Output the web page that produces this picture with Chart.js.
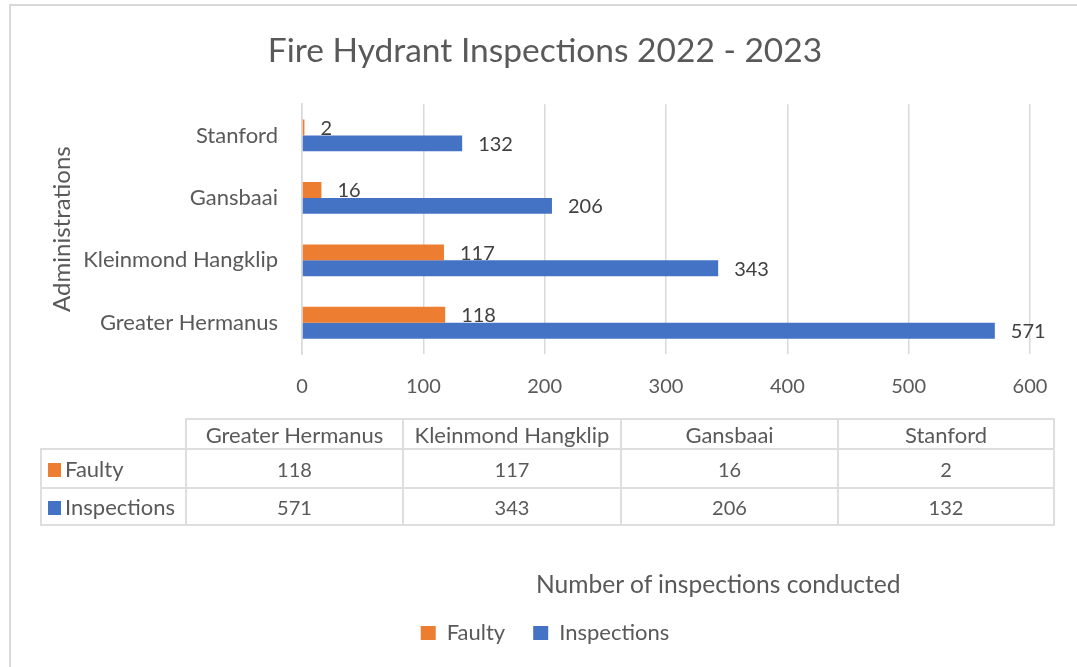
<!DOCTYPE html>
<html>
<head>
<meta charset="utf-8">
<script src="https://cdn.jsdelivr.net/npm/chart.js@4.4.1/dist/chart.umd.min.js"></script>
<style>
  html, body { margin: 0; padding: 0; background: #fff; overflow: hidden; }
  body { width: 1077px; height: 667px; position: relative; font-family: Lato, "Open Sans", sans-serif; }
  #frame { position: absolute; left: 9px; top: 4px; width: 1200px; height: 800px;
           border-left: 2px solid #d9d9d9; border-top: 2px solid #d9d9d9; box-sizing: border-box; }
  #c { position: absolute; left: 0; top: 0; }
  #dtable { position: absolute; left: 40px; top: 418px; border-collapse: collapse; color: #595959;
            font-size: 20px; table-layout: fixed; }
  #dtable td { border: 2px solid #dedede; text-align: center; padding: 0; }
  #dtable td.blank { border: none; }
  #dtable td.head { font-size: 22px; }
  #dtable td.rowlab { text-align: left; padding-left: 6px; white-space: nowrap; font-size: 22px; }
  #dtable .sw { display: inline-block; width: 13px; height: 14px; vertical-align: 0px; margin-right: 4px; }
  #xtitle { position: absolute; left: 536px; top: 571px; font-size: 24.6px; line-height: 26px; color: #595959; white-space: nowrap; }
</style>
</head>
<body>
<div id="frame"></div>
<canvas id="c" width="1077" height="667"></canvas>
<table id="dtable"></table>
<div id="xtitle">Number of inspections conducted</div>
<script>
// ---- data ----
const categories = ['Greater Hermanus', 'Kleinmond Hangklip', 'Gansbaai', 'Stanford'];
const faulty = [118, 117, 16, 2];
const inspections = [571, 343, 206, 132];
const seriesNames = ['Faulty', 'Inspections'];
const xTicks = [0, 100, 200, 300, 400, 500, 600];
const chartTitle = 'Fire Hydrant Inspections 2022 - 2023';
const yTitle = 'Administrations';

const ORANGE = '#ED7D31';
const BLUE = '#4472C4';
const TEXT = '#595959';
const GRID = '#d9d9d9';

// ---- data table (HTML) ----
(function buildTable() {
  const t = document.getElementById('dtable');
  const colW = [145, 217, 218, 217, 216];
  const cg = document.createElement('colgroup');
  colW.forEach(w => { const c = document.createElement('col'); c.style.width = w + 'px'; cg.appendChild(c); });
  t.appendChild(cg);
  const head = document.createElement('tr');
  head.style.height = '30px';
  const blank = document.createElement('td'); blank.className = 'blank'; head.appendChild(blank);
  categories.forEach(cat => { const td = document.createElement('td'); td.className = 'head'; td.textContent = cat; head.appendChild(td); });
  t.appendChild(head);
  [[seriesNames[0], faulty, ORANGE], [seriesNames[1], inspections, BLUE]].forEach(([name, vals, col], i) => {
    const tr = document.createElement('tr');
    tr.style.height = (i === 0 ? 39 : 37) + 'px';
    const lab = document.createElement('td'); lab.className = 'rowlab';
    const sw = document.createElement('span'); sw.className = 'sw'; sw.style.background = col;
    lab.appendChild(sw); lab.appendChild(document.createTextNode(name));
    tr.appendChild(lab);
    vals.forEach(v => { const td = document.createElement('td'); td.textContent = v; tr.appendChild(td); });
    t.appendChild(tr);
  });
})();

// ---- value labels plugin ----
const valueLabels = {
  id: 'valueLabels',
  afterDatasetsDraw(chart) {
    const ctx = chart.ctx;
    ctx.save();
    ctx.font = '20px Lato';
    ctx.fillStyle = '#404040';
    ctx.textAlign = 'left';
    ctx.textBaseline = 'middle';
    chart.data.datasets.forEach((ds, di) => {
      const meta = chart.getDatasetMeta(di);
      meta.data.forEach((bar, i) => {
        ctx.fillText(String(ds.data[i]), bar.x + 16, bar.y + 1);
      });
    });
    ctx.restore();
  }
};

Chart.defaults.font.family = 'Lato';
Chart.defaults.color = TEXT;

new Chart(document.getElementById('c'), {
  type: 'bar',
  data: {
    labels: categories,
    datasets: [
      { label: seriesNames[0], data: faulty, backgroundColor: ORANGE, categoryPercentage: 0.51, barPercentage: 1 },
      { label: seriesNames[1], data: inspections, backgroundColor: BLUE, categoryPercentage: 0.51, barPercentage: 1 }
    ]
  },
  plugins: [valueLabels],
  options: {
    indexAxis: 'y',
    responsive: false,
    animation: false,
    layout: { padding: { left: 60, right: 47, top: 0, bottom: 13 } },
    plugins: {
      title: {
        display: true, text: chartTitle, color: TEXT,
        font: { size: 33.5, weight: 'normal' },
        padding: { top: 31, bottom: 33 }
      },
      legend: {
        position: 'bottom',
        labels: { color: TEXT, font: { size: 22 }, boxWidth: 15, boxHeight: 14, padding: 28 }
      },
      tooltip: { enabled: false }
    },
    scales: {
      x: {
        min: 0, max: 600,
        afterBuildTicks(scale) { scale.ticks = xTicks.map(v => ({ value: v })); },
        afterFit(scale) { scale.height = 240; },
        grid: { color: GRID, lineWidth: 1.5, drawTicks: false },
        border: { display: false },
        ticks: { color: TEXT, font: { size: 20 }, padding: 21 }
      },
      y: {
        reverse: true,
        afterFit(scale) { scale.width = 242; },
        grid: { display: false, drawTicks: false },
        border: { display: true, color: GRID, width: 1.5 },
        ticks: { color: TEXT, font: { size: 22 }, padding: 24 },
        title: { display: true, text: yTitle, color: TEXT, font: { size: 24 }, padding: { top: -12, bottom: 0 } }
      }
    }
  }
});
</script>
</body>
</html>
